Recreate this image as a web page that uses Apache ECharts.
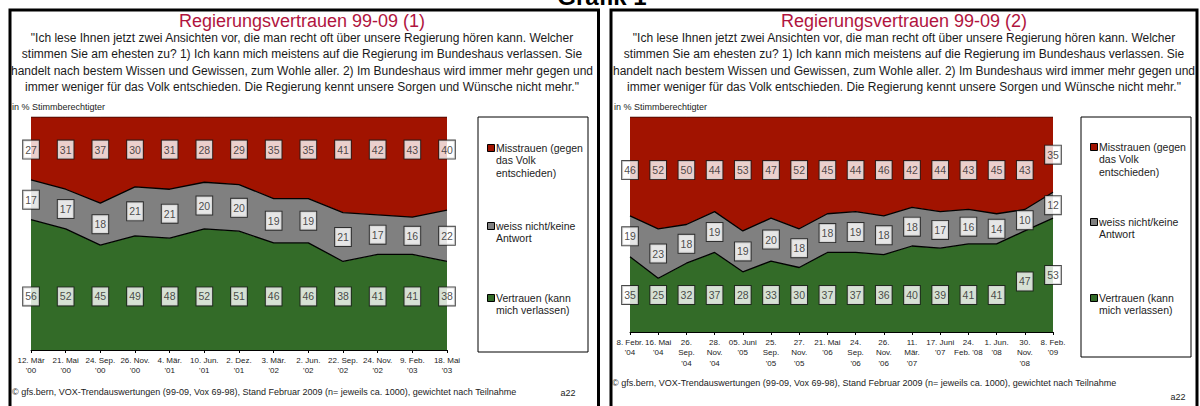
<!DOCTYPE html>
<html><head><meta charset="utf-8">
<script src="https://cdn.jsdelivr.net/npm/echarts@6/dist/echarts.min.js"></script>
<style>html,body{margin:0;padding:0;background:#fff;}#c{width:1200px;height:406px;}</style>
</head><body><div id="c"></div>
<script>
// ---------- data ----------
const pageTitle = "Grafik 1";
const titles = ["Regierungsvertrauen 99-09 (1)", "Regierungsvertrauen 99-09 (2)"];
const questionLines = [
  "\"Ich lese Ihnen jetzt zwei Ansichten vor, die man recht oft über unsere Regierung hören kann. Welcher",
  "stimmen Sie am ehesten zu? 1) Ich kann mich meistens auf die Regierung im Bundeshaus verlassen. Sie",
  "handelt nach bestem Wissen und Gewissen, zum Wohle aller. 2) Im Bundeshaus wird immer mehr gegen und",
  "immer weniger für das Volk entschieden. Die Regierung kennt unsere Sorgen und Wünsche nicht mehr.\""
];
const unitLabel = "in % Stimmberechtigter";
const sourceNote = "© gfs.bern, VOX-Trendauswertungen (99-09, Vox 69-98), Stand Februar 2009 (n= jeweils ca. 1000), gewichtet nach Teilnahme";
const pageCode = "a22";
const seriesNames = ["Misstrauen (gegen\ndas Volk\nentschieden)", "weiss nicht/keine\nAntwort", "Vertrauen (kann\nmich verlassen)"];

const categories1 = ["12. Mär\n'00","21. Mai\n'00","24. Sep.\n'00","26. Nov.\n'00","4. Mär.\n'01","10. Jun.\n'01","2. Dez.\n'01","3. Mär.\n'02","2. Jun.\n'02","22. Sep.\n'02","24. Nov.\n'02","9. Feb.\n'03","18. Mai\n'03"];
const misstrauen1 = [27,31,37,30,31,28,29,35,35,41,42,43,40];
const weissNicht1 = [17,17,18,21,21,20,20,19,19,21,17,16,22];
const vertrauen1  = [56,52,45,49,48,52,51,46,46,38,41,41,38];

const categories2 = ["8. Febr.\n'04","16. Mai\n'04","26.\nSep.\n'04","28.\nNov.\n'04","05. Juni\n'05","25.\nSep.\n'05","27.\nNov.\n'05","21. Mai\n'06","24.\nSep.\n'06","26.\nNov.\n'06","11.\nMär.\n'07","17. Juni\n'07","24.\nFeb. '08","1. Jun.\n'08","30.\nNov.\n'08","8. Feb.\n'09"];
const misstrauen2 = [46,52,50,44,53,47,52,45,44,46,42,44,43,45,43,35];
const weissNicht2 = [19,23,18,19,19,20,18,18,19,18,18,17,16,14,10,12];
const vertrauen2  = [35,25,32,37,28,33,30,37,37,36,40,39,41,41,47,53];

// ---------- styles ----------
const FONT = "'Liberation Sans', Arial, sans-serif";
const RED = '#A11300', GRAY = '#808080', GREEN = '#336B28';

function labelPoints(mis, wn, ver, redLevel, greenLevel) {
  const pts = [];
  for (let i = 0; i < mis.length; i++) {
    pts.push([i, redLevel(mis[i]), mis[i]]);
    pts.push([i, ver[i] + wn[i] / 2, wn[i]]);
    pts.push([i, greenLevel(ver[i]), ver[i]]);
  }
  return pts;
}

const panels = [
  {cats: categories1, mis: misstrauen1, wn: weissNicht1, ver: vertrauen1,
   grid: {left: 31, top: 117, width: 416, height: 233},
   redLevel: () => 86, greenLevel: () => 23},
  {cats: categories2, mis: misstrauen2, wn: weissNicht2, ver: vertrauen2,
   grid: {left: 630, top: 117, width: 423, height: 215},
   redLevel: r => (r < 40 ? 100 - r / 2 : 75.3), greenLevel: g => (g > 45 ? g / 2 : 17.2)}
];

const grids = [], xAxes = [], yAxes = [], series = [];
panels.forEach((p, k) => {
  grids.push(Object.assign({containLabel: false}, p.grid));
  xAxes.push({type: 'category', gridIndex: k, data: p.cats, boundaryGap: false,
    axisLine: {lineStyle: {color: '#000', width: 1}},
    axisTick: {show: true, length: 3, lineStyle: {color: '#000'}},
    axisLabel: {interval: 0, fontSize: 8, lineHeight: 10.5, color: '#222', margin: 5, fontFamily: FONT},
    splitLine: {show: false}});
  yAxes.push({type: 'value', gridIndex: k, min: 0, max: 100, show: false, splitLine: {show: false}});
  const common = {type: 'line', xAxisIndex: k, yAxisIndex: k, stack: 'p' + k, symbol: 'none', smooth: false, silent: true};
  series.push(Object.assign({}, common, {name: seriesNames[2], data: p.ver,
    areaStyle: {color: GREEN, opacity: 1}, lineStyle: {color: '#000', width: 1.3}}));
  series.push(Object.assign({}, common, {name: seriesNames[1], data: p.wn,
    areaStyle: {color: GRAY, opacity: 1}, lineStyle: {color: '#000', width: 1.3}}));
  series.push(Object.assign({}, common, {name: seriesNames[0], data: p.mis,
    areaStyle: {color: RED, opacity: 1}, lineStyle: {color: '#3a0600', width: 1}}));
  series.push({type: 'scatter', xAxisIndex: k, yAxisIndex: k, z: 10, silent: true,
    symbolSize: 1, itemStyle: {color: 'rgba(0,0,0,0)'},
    data: labelPoints(p.mis, p.wn, p.ver, p.redLevel, p.greenLevel),
    label: {show: true, position: 'inside', formatter: d => String(d.value[2]),
      fontSize: 10.5, lineHeight: 12, color: '#222', fontFamily: FONT,
      backgroundColor: '#ffffff', borderColor: '#1a1a1a', borderWidth: 1, padding: [3, 2, 3, 2]}});
});

// ---------- static texts / frames ----------
const graphic = [];
function txt(x, y, text, font, opts) {
  graphic.push({type: 'text', x: x, y: y, silent: true, style: Object.assign({text: text, font: font,
    fill: '#222', textAlign: 'left', textVerticalAlign: 'middle'}, opts || {})});
}
graphic.push({type: 'rect', silent: true, shape: {x: 10, y: 10, width: 588.5, height: 430}, style: {fill: 'none', stroke: '#000', lineWidth: 3}});
graphic.push({type: 'rect', silent: true, shape: {x: 611, y: 10, width: 586, height: 430}, style: {fill: 'none', stroke: '#000', lineWidth: 3}});
txt(602, -4, pageTitle, "bold 24px " + FONT, {fill: '#000', textAlign: 'center'});

const panelCfg = [
  {cx: 302, unitX: 12, legX: 478, legW: 110, legH: 235, foot: [12, 392], code: [568, 393], legY: [148, 226, 298]},
  {cx: 904, unitX: 614, legX: 1081, legW: 110, legH: 240, foot: [612, 383], code: [1178, 397], legY: [147, 222, 298]}
];
panelCfg.forEach((c, k) => {
  txt(c.cx, 21, titles[k], "18px " + FONT, {fill: '#B0143E', textAlign: 'center'});
  questionLines.forEach((l, i) => txt(c.cx, 37.5 + i * 16.5, l, "12px " + FONT, {textAlign: 'center', fill: '#1a1a1a'}));
  txt(c.unitX, 106.5, unitLabel, "9px " + FONT, {fill: '#222'});
  graphic.push({type: 'rect', silent: true, shape: {x: c.legX, y: 117, width: c.legW, height: c.legH}, style: {fill: '#fff', stroke: '#000', lineWidth: 1}});
  const cols = [RED, GRAY, GREEN];
  [0, 1, 2].forEach(j => {
    const y0 = c.legY[j];
    graphic.push({type: 'rect', silent: true, shape: {x: c.legX + 9.5, y: y0 - 3.5, width: 7, height: 7}, style: {fill: cols[j], stroke: '#000', lineWidth: 1}});
    txt(c.legX + 18, y0 - 6.5, seriesNames[j], "10.5px " + FONT, {textVerticalAlign: 'top', lineHeight: 12.5, fill: '#222'});
  });
  txt(c.foot[0], c.foot[1], sourceNote, "9px " + FONT, {fill: '#222'});
  txt(c.code[0], c.code[1], pageCode, "9px " + FONT, {fill: '#222', textAlign: 'center'});
});

const chart = echarts.init(document.getElementById('c'), null, {renderer: 'svg', width: 1200, height: 406});
chart.setOption({
  animation: false,
  backgroundColor: '#fff',
  grid: grids, xAxis: xAxes, yAxis: yAxes, series: series,
  graphic: graphic
});
</script>
</body></html>
